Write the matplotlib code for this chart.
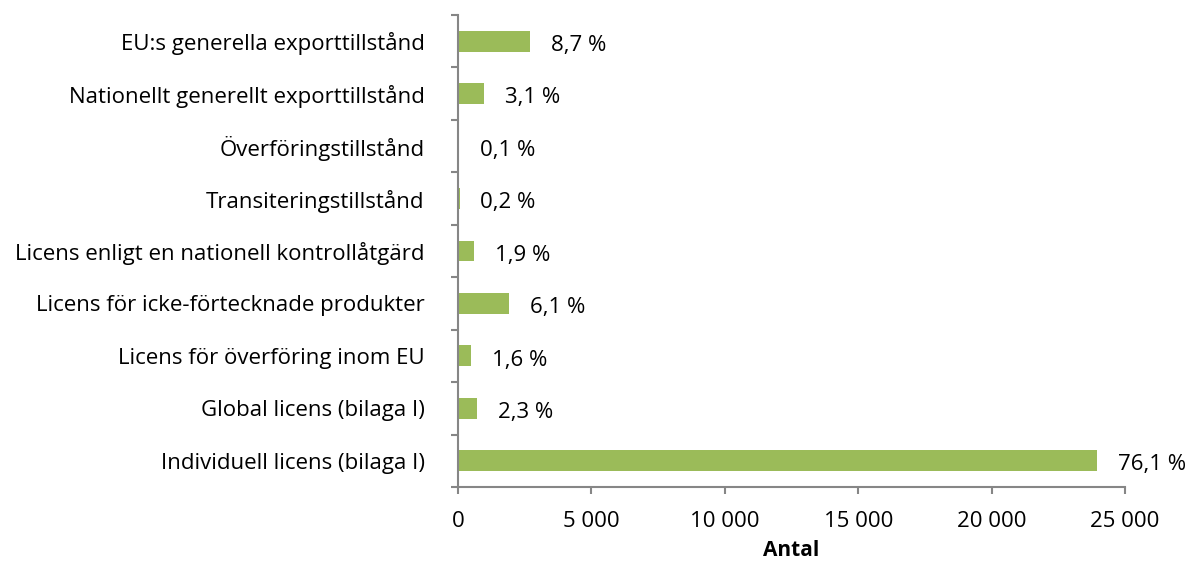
import matplotlib
matplotlib.use("Agg")
import matplotlib.pyplot as plt
from matplotlib.ticker import FuncFormatter, FixedLocator

plt.rcParams["font.family"] = ["Open Sans", "DejaVu Sans"]

categories = [
    "EU:s generella exporttillstånd",
    "Nationellt generellt exporttillstånd",
    "Överföringstillstånd",
    "Transiteringstillstånd",
    "Licens enligt en nationell kontrollåtgärd",
    "Licens för icke-förtecknade produkter",
    "Licens för överföring inom EU",
    "Global licens (bilaga I)",
    "Individuell licens (bilaga I)",
]
counts = [2700, 970, 30, 60, 590, 1920, 500, 720, 23950]
shares = ["8,7 %", "3,1 %", "0,1 %", "0,2 %", "1,9 %", "6,1 %", "1,6 %", "2,3 %", "76,1 %"]
x_ticks = [0, 5000, 10000, 15000, 20000, 25000]

BAR_COLOR = "#9BBB59"
AXIS_COLOR = "#868686"
FS = 16

fig = plt.figure(figsize=(11.89, 5.65), dpi=100)
ax = fig.add_axes([458 / 1189, 78 / 565, 667 / 1189, 472 / 565])

n = len(categories)
ypos = list(range(n))
ax.barh(ypos, counts, height=0.4, color=BAR_COLOR)

for y, v, lab in zip(ypos, counts, shares):
    ax.annotate(lab, xy=(v, y), xytext=(15, -3), textcoords="offset points",
                ha="left", va="center", fontsize=FS, color="black")

ax.set_ylim(n - 0.5, -0.5)
ax.set_xlim(0, 25000)
ax.set_yticks(ypos)
ax.set_yticklabels(categories, fontsize=FS)
ax.yaxis.set_minor_locator(FixedLocator([i - 0.5 for i in range(n + 1)]))
ax.tick_params(axis="y", which="major", length=0, pad=24)
ax.tick_params(axis="y", which="minor", length=5, width=1.5, color=AXIS_COLOR, direction="out")

ax.set_xticks(x_ticks)
ax.xaxis.set_major_formatter(FuncFormatter(lambda v, p: f"{int(v):,}".replace(",", " ")))
ax.tick_params(axis="x", length=5, width=1.5, color=AXIS_COLOR, direction="out", pad=12, labelsize=FS)
ax.set_xlabel("Antal", fontsize=FS - 1, fontweight="bold", labelpad=6)

for side in ("top", "right"):
    ax.spines[side].set_visible(False)
for side in ("left", "bottom"):
    ax.spines[side].set_color(AXIS_COLOR)
    ax.spines[side].set_linewidth(1.5)

fig.savefig("out.png", dpi=100)
